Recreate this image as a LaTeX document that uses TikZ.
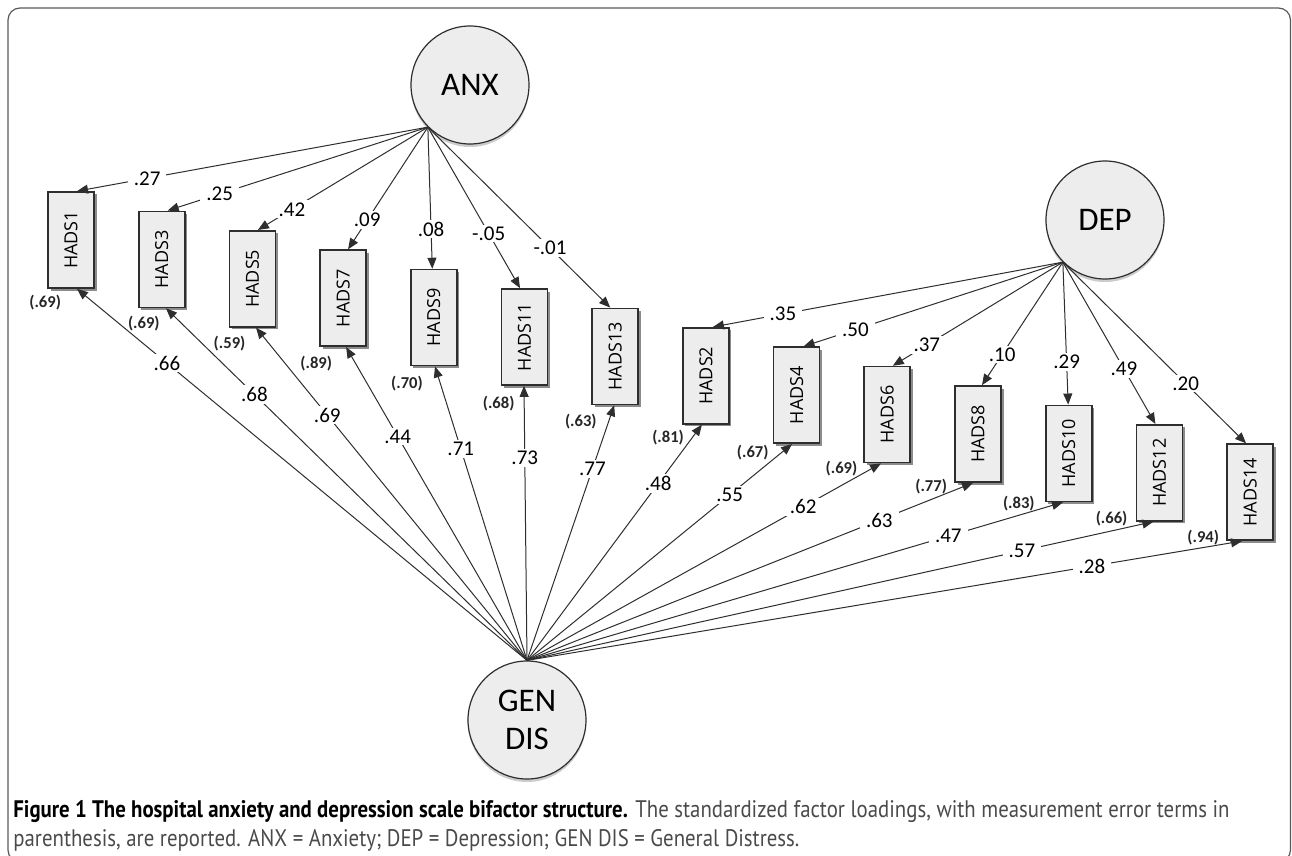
\documentclass[tikz,border=0pt]{standalone}
\usepackage{fontspec}
\setmainfont{Carlito}
\newfontfamily\boxfont{Open Sans}
\newfontfamily\capfont{PT Sans}[FakeStretch=0.87]
\usetikzlibrary{arrows.meta,shadows,calc}
\definecolor{nodefill}{HTML}{EDEDED}
\definecolor{edgecol}{HTML}{2E2E2E}
\definecolor{capgray}{HTML}{4A4A4A}
\begin{document}
\begin{tikzpicture}[x=0.5pt,y=-0.5pt,
  lat/.style={circle, draw=edgecol, line width=0.6pt, fill=nodefill, minimum size=59pt,
    inner sep=0pt, align=center, font=\fontsize{16.5}{19}\selectfont,
    drop shadow={shadow xshift=0pt, shadow yshift=-1.5pt, fill=black!40, opacity=0.5}},
  obsshadow/.style={rectangle, draw=none, fill=black!45,
    minimum width=23pt, minimum height=48pt, inner sep=0pt},
  obs/.style={rectangle, draw=edgecol, line width=0.85pt, fill=nodefill,
    minimum width=23pt, minimum height=48pt, inner sep=0pt,
    font=\boxfont\fontsize{9}{10}\selectfont},
  ldarrow/.style={draw=edgecol, line width=0.5pt, -{Triangle[length=5.5pt,width=4.5pt]}},
  lbl/.style={fill=white, inner xsep=3pt, inner ysep=1pt, font=\fontsize{10.5}{12}\selectfont},
  errlbl/.style={inner sep=0pt, text=black!85, font=\bfseries\fontsize{8.3}{10}\selectfont}
]
\useasboundingbox (0,0) rectangle (1292,856);
% frame
\draw[black!65, line width=0.6pt, rounded corners=6pt] (8,8) rectangle (1290.5,862);

% latent factors
\node[lat] (anx) at (470,85) {ANX};
\node[lat] (dep) at (1105,220) {DEP};
\node[lat] (gen) at (527,720) {GEN\\DIS};
\coordinate (oa) at (anx.225);
\coordinate (od) at (dep.225);
\coordinate (og) at (gen.north);

% observed items
\foreach \n [count=\i from 0] in {1,3,5,7,9,11,13,2,4,6,8,10,12,14} {
  \node[obsshadow] (s\n) at ({73.5+90.7*\i},{242.5+19.4*\i}) {};
  \node[obs] (h\n) at ({71+90.7*\i},{240+19.4*\i}) {\rotatebox{90}{HADS\n}};
}

% general factor loadings
\foreach \n/\dx/\lab/\p in {1/6/.66/0.8, 3/4.3/.68/0.755, 5/3.6/.69/0.737, 7/3/.44/0.715,
    9/1.2/.71/0.72, 11/-0.5/.73/0.738, 13/-1/.77/0.75, 2/-4/.48/0.75, 4/-4.6/.55/0.765,
    6/-6.3/.62/0.78, 8/-5/.63/0.79, 10/-5.7/.47/0.786, 12/-6/.57/0.79, 14/-8/.28/0.79} {
  \draw[ldarrow] (og) -- node[lbl, pos=\p] {\lab} ($(h\n.south)+(\dx,0)$);
}

% anxiety loadings
\foreach \n/\dx/\lab/\p in {1/6/.27/0.8, 3/6/.25/0.8, 5/5.5/.42/0.8, 7/5/.09/0.76,
    9/-1.5/.08/0.72, 11/-4.5/-.05/0.66, 13/-5/-.01/0.67} {
  \draw[ldarrow] (oa) -- node[lbl, pos=\p] {\lab} ($(h\n.north)+(\dx,0)$);
}

% depression loadings
\foreach \n/\dx/\lab/\p in {2/7/.35/0.8, 4/7/.50/0.8, 6/5.5/.37/0.8, 8/4/.10/0.75,
    10/-0.5/.29/0.7, 12/-4/.49/0.66, 14/-4/.20/0.67} {
  \draw[ldarrow] (od) -- node[lbl, pos=\p] {\lab} ($(h\n.north)+(\dx,0)$);
}

% error terms
\foreach \n/\ex/\ey/\lab in {1/-2/14/(.69), 3/6/15.6/(.69), 5/1/16/(.59), 7/-3/17/(.89),
    9/-3/17/(.70), 11/-2/18/(.68), 13/-10.5/16/(.63), 2/-14/13/(.81), 4/-20/9/(.67),
    6/-22/5/(.69), 8/-23/4/(.77), 10/-26/1/(.83), 12/-24/-3/(.66), 14/-23/-3/(.94)} {
  \node[errlbl] (e\n) at ($(h\n.south west)+(\ex,\ey)$) {\lab};
}

% caption
\node[anchor=north west, inner sep=0pt] (cap) at (13,797) {\resizebox{608pt}{!}{\capfont\fontsize{10}{12}\selectfont
  \begin{tabular}{@{}l@{}}
  \textbf{Figure 1 The hospital anxiety and depression scale bifactor structure.} {\color{capgray}The standardized factor loadings, with measurement error terms in}\\
  {\color{capgray}parenthesis, are reported. ANX = Anxiety; DEP = Depression; GEN DIS = General Distress.}
  \end{tabular}}};
\end{tikzpicture}
\end{document}
